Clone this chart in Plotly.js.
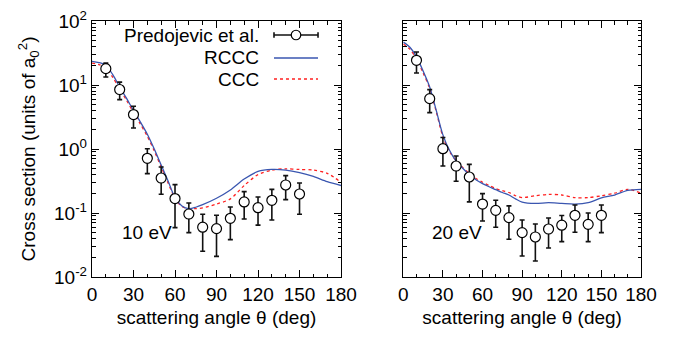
<!DOCTYPE html>
<html>
<head>
<meta charset="utf-8">
<script src="https://cdn.plot.ly/plotly-3.0.1.min.js"></script>
<style>html,body{margin:0;padding:0;background:#fff;}#chart{width:676px;height:337px;}</style>
</head>
<body>
<div id="chart"></div>
<script>
// ---- data ----
const expAngles = [10,20,30,40,50,60,70,80,90,100,110,120,130,140,150];

const exp10 = [18.0,8.5,3.45,0.716,0.352,0.168,0.0964,0.060,0.057,0.0826,0.149,0.121,0.158,0.274,0.198];
const exp10Hi = [22,11.1,4.65,1.01,0.524,0.278,0.143,0.0955,0.092,0.124,0.216,0.178,0.234,0.384,0.294];
const exp10Lo = [13.3,5.9,2.13,0.413,0.196,0.059,0.0494,0.0252,0.021,0.0384,0.0805,0.0646,0.0776,0.162,0.0955];

const exp20 = [24.3,6.12,1.01,0.542,0.365,0.138,0.110,0.0847,0.0494,0.0422,0.0562,0.0645,0.092,0.0665,0.092];
const exp20Hi = [32.8,8.47,1.51,0.776,0.576,0.201,0.158,0.129,0.0778,0.0673,0.0835,0.0912,0.133,0.1,0.133];
const exp20Lo = [15.4,3.7,0.542,0.313,0.149,0.075,0.0598,0.0389,0.0213,0.0178,0.0284,0.0357,0.050,0.0357,0.0494];

const thAngles10 = [0,5,10,15,20,25,30,35,40,45,50,55,60,65,70,75,80,90,100,110,120,130,140,150,160,170,180];
const rccc10 = [23.4,22.4,20.4,14.5,9.33,6.17,3.98,2.63,1.70,1.0,0.562,0.316,0.174,0.129,0.117,0.123,0.135,0.170,0.229,0.339,0.447,0.479,0.468,0.427,0.372,0.309,0.269];
const ccc10  = [21.9,20.9,18.6,13.2,8.71,5.75,3.72,2.45,1.58,0.933,0.525,0.295,0.170,0.126,0.117,0.117,0.120,0.138,0.166,0.269,0.398,0.468,0.490,0.479,0.468,0.417,0.302];

const thAngles20 = [0,5,10,15,20,25,30,35,40,45,50,55,60,65,70,75,80,85,90,100,110,120,130,140,150,160,170,180];
const rccc20 = [46.8,38.9,27.5,16.6,9.33,3.98,1.66,0.955,0.646,0.501,0.398,0.331,0.288,0.257,0.232,0.209,0.191,0.166,0.148,0.141,0.145,0.141,0.138,0.145,0.172,0.191,0.226,0.234];
const ccc20  = [43.7,36.3,25.7,15.5,8.91,3.80,1.55,0.912,0.661,0.513,0.417,0.347,0.302,0.269,0.240,0.224,0.209,0.186,0.174,0.186,0.195,0.191,0.174,0.174,0.186,0.204,0.234,0.204];

const xTicks = [0,30,60,90,120,150,180];
const yTickVals = [0.01,0.1,1,10,100];
const yTickText = ['10<sup>-2</sup>','10<sup>-1</sup>','10<sup>0</sup>','10<sup>1</sup>','10<sup>2</sup>'];
const legendLabels = ['Predojevic et al.','RCCC','CCC'];
const panelLabels = ['10 eV','20 eV'];

// ---- styles ----
const FONT = 'Liberation Sans, Arial, Helvetica, sans-serif';
const FS = 19;
const BLUE = '#3a56b0';
const RED = '#ff2020';

function expTrace(y, hi, lo, xa, ya){
  return {
    x: expAngles, y: y, xaxis: xa, yaxis: ya, type:'scatter', mode:'markers',
    marker:{symbol:'circle', size:10, color:'#ffffff', line:{color:'#000', width:1.2}},
    error_y:{type:'data', symmetric:false,
      array: hi.map((h,i)=>h-y[i]), arrayminus: lo.map((l,i)=>y[i]-l),
      color:'#111', thickness:1.6, width:2.5},
    showlegend:false, cliponaxis:false
  };
}
function lineTrace(x, y, xa, ya, color, dash){
  return {x:x, y:y, xaxis:xa, yaxis:ya, type:'scatter', mode:'lines',
    line:{color:color, width:1.3, dash:dash, shape:'spline', smoothing:0.8}, showlegend:false};
}

const data = [
  lineTrace(thAngles10, ccc10, 'x','y', RED, 'dot'),
  lineTrace(thAngles10, rccc10, 'x','y', BLUE, 'solid'),
  expTrace(exp10, exp10Hi, exp10Lo, 'x','y'),
  lineTrace(thAngles20, ccc20, 'x2','y2', RED, 'dot'),
  lineTrace(thAngles20, rccc20, 'x2','y2', BLUE, 'solid'),
  expTrace(exp20, exp20Hi, exp20Lo, 'x2','y2')
];

function xax(domain, anchor){
  return {domain:domain, anchor:anchor, range:[0,180], tickvals:xTicks, ticks:'inside', ticklen:7,
    tickcolor:'#000', showline:true, linecolor:'#000', linewidth:1.2, mirror:'ticks',
    showgrid:false, zeroline:false,
    minor:{dtick:10, ticks:'inside', ticklen:3.5, tickcolor:'#000', showgrid:false},
    tickfont:{family:FONT, size:FS, color:'#000'},
    title:{text:'scattering angle θ (deg)', font:{family:FONT, size:FS, color:'#000'}, standoff:6}};
}
function yax(anchor, showLabels){
  return {anchor:anchor, type:'log', range:[-2,2], tickmode:'array', tickvals:yTickVals, ticktext:yTickText,
    ticks:'inside', ticklen:7, tickcolor:'#000', showline:true, linecolor:'#000', linewidth:1.2,
    mirror:'ticks', showgrid:false, zeroline:false, showticklabels:showLabels,
    minor:{ticks:'inside', ticklen:3.5, tickcolor:'#000', showgrid:false, dtick:'D1'},
    tickfont:{family:FONT, size:FS, color:'#000'}};
}

// legend geometry (paper coords)
const legY = [0.9453, 0.8555, 0.7734];
const legTextX = 0.3078, legL = 0.3315, legR = 0.4117, legC = 0.3716;

const shapes = [
  {type:'line', xref:'paper', yref:'paper', x0:legL, x1:legR, y0:legY[0], y1:legY[0], line:{color:'#111', width:1.6}},
  {type:'line', xref:'paper', yref:'paper', x0:legL, x1:legL, y0:legY[0]-0.011, y1:legY[0]+0.011, line:{color:'#111', width:1.6}},
  {type:'line', xref:'paper', yref:'paper', x0:legR, x1:legR, y0:legY[0]-0.011, y1:legY[0]+0.011, line:{color:'#111', width:1.6}},
  {type:'circle', xref:'paper', yref:'paper', x0:legC-0.0087, x1:legC+0.0087, y0:legY[0]-0.0186, y1:legY[0]+0.0186, fillcolor:'#fff', line:{color:'#000', width:1.2}},
  {type:'line', xref:'paper', yref:'paper', x0:legL, x1:legR, y0:legY[1], y1:legY[1], line:{color:BLUE, width:1.3}},
  {type:'line', xref:'paper', yref:'paper', x0:legL, x1:legR, y0:legY[2], y1:legY[2], line:{color:RED, width:1.3, dash:'dot'}}
];

const annotations = legendLabels.map((t,i)=>({text:t, xref:'paper', yref:'paper', x:legTextX, y:legY[i],
  xanchor:'right', yanchor:'middle', showarrow:false, font:{family:FONT, size:FS, color:'#000'}}));
annotations.push({text:panelLabels[0], xref:'x', yref:'y', x:20, y:-1.31, xanchor:'left', yanchor:'middle', showarrow:false, font:{family:FONT, size:FS, color:'#000'}});
annotations.push({text:panelLabels[1], xref:'x2', yref:'y2', x:20, y:-1.31, xanchor:'left', yanchor:'middle', showarrow:false, font:{family:FONT, size:FS, color:'#000'}});

const layout = {
  width:676, height:337,
  margin:{l:92, r:35, t:21, b:60, pad:0},
  paper_bgcolor:'#fff', plot_bgcolor:'#fff',
  font:{family:FONT, size:FS, color:'#000'},
  xaxis: xax([0, 0.4536], 'y'),
  yaxis: Object.assign(yax('x', true), {title:{text:'Cross section (units of a<sub>0</sub><sup>2</sup>)', font:{family:FONT, size:FS, color:'#000'}, standoff:13}}),
  xaxis2: xax([0.567, 1], 'y2'),
  yaxis2: yax('x2', false),
  shapes: shapes,
  annotations: annotations,
  showlegend:false
};

Plotly.newPlot('chart', data, layout, {displayModeBar:false, staticPlot:true});
</script>
</body>
</html>
